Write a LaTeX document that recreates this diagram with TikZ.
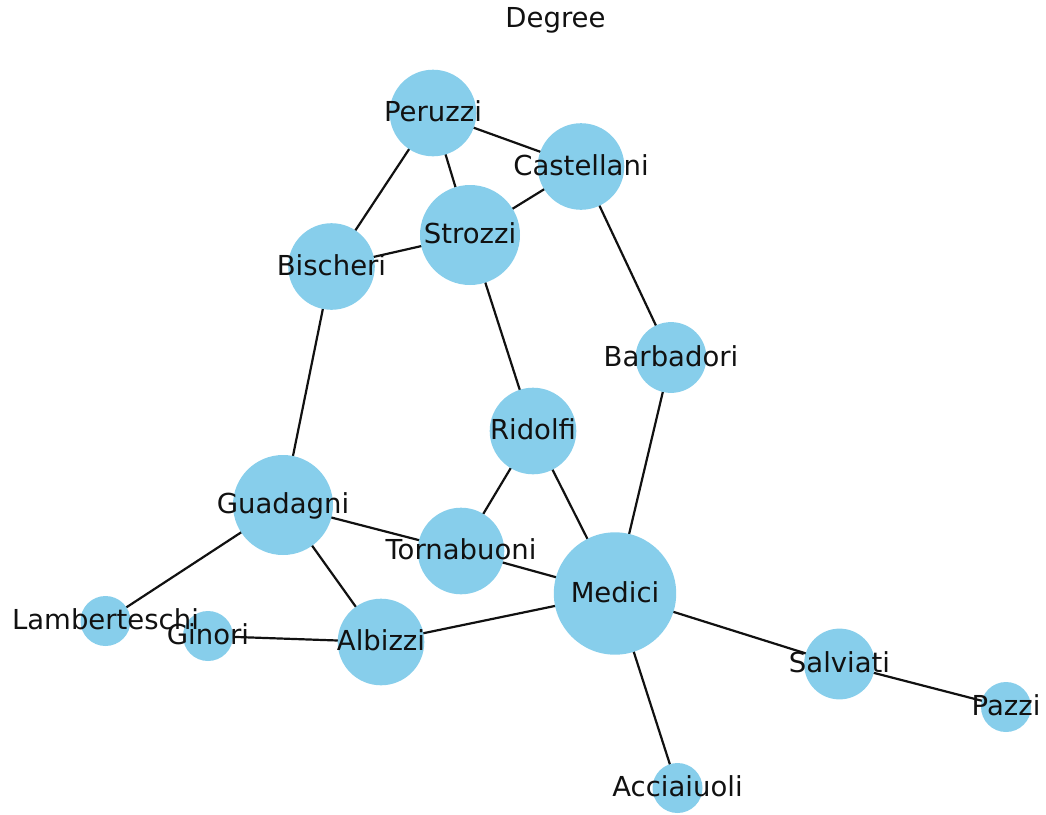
\documentclass[tikz,border=0pt]{standalone}
\usepackage{fontspec}
\setmainfont{DejaVu Sans}
\definecolor{skyblue}{HTML}{87CEEB}
\definecolor{txt}{HTML}{111111}
\begin{document}
\begin{tikzpicture}[x=1pt,y=-1pt,
  fam/.style={circle,fill=skyblue,draw=none,inner sep=0pt,minimum size=#1*2pt},
  lbl/.style={font=\fontsize{27.5}{33}\selectfont,text=txt,inner sep=0pt,text height=20pt,text depth=2.75pt,anchor=center},
  edge/.style={draw=txt,line width=2.2pt}]
\useasboundingbox (0,0) rectangle (1046,814);
% node positions
\coordinate (cPeruzzi) at (433,113);
\coordinate (cCastellani) at (581,166.5);
\coordinate (cStrozzi) at (470,235);
\coordinate (cBischeri) at (331.5,266.5);
\coordinate (cBarbadori) at (671,357.5);
\coordinate (cRidolfi) at (533,431);
\coordinate (cGuadagni) at (283,505);
\coordinate (cTornabuoni) at (461,551);
\coordinate (cMedici) at (615,593.5);
\coordinate (cAlbizzi) at (381,642);
\coordinate (cGinori) at (208,636);
\coordinate (cLamberteschi) at (105.5,621);
\coordinate (cSalviati) at (839.5,664);
\coordinate (cPazzi) at (1006,707);
\coordinate (cAcciaiuoli) at (677.5,788);
% edges
\foreach \a/\b in {Peruzzi/Castellani,Peruzzi/Strozzi,Peruzzi/Bischeri,Castellani/Strozzi,Castellani/Barbadori,Bischeri/Strozzi,Bischeri/Guadagni,Strozzi/Ridolfi,Barbadori/Medici,Ridolfi/Tornabuoni,Ridolfi/Medici,Guadagni/Tornabuoni,Guadagni/Albizzi,Guadagni/Lamberteschi,Tornabuoni/Medici,Albizzi/Ginori,Albizzi/Medici,Medici/Salviati,Medici/Acciaiuoli,Salviati/Pazzi}
  \draw[edge] (c\a) -- (c\b);
% nodes
\foreach \n/\r in {Peruzzi/43.3,Castellani/43.3,Strozzi/50,Bischeri/43.3,Barbadori/35.4,Ridolfi/43.3,Guadagni/50,Tornabuoni/43.3,Medici/61.2,Albizzi/43.3,Ginori/25,Lamberteschi/25,Salviati/35.4,Pazzi/25,Acciaiuoli/25}
  \node[fam=\r] (\n) at (c\n) {};
% labels
\foreach \n in {Peruzzi,Castellani,Strozzi,Bischeri,Barbadori,Ridolfi,Guadagni,Tornabuoni,Medici,Albizzi,Ginori,Lamberteschi,Salviati,Pazzi,Acciaiuoli}
  \node[lbl] (l\n) at (c\n) {\n};
\node[lbl] (title) at (555.5,19) {Degree};
\end{tikzpicture}
\end{document}
